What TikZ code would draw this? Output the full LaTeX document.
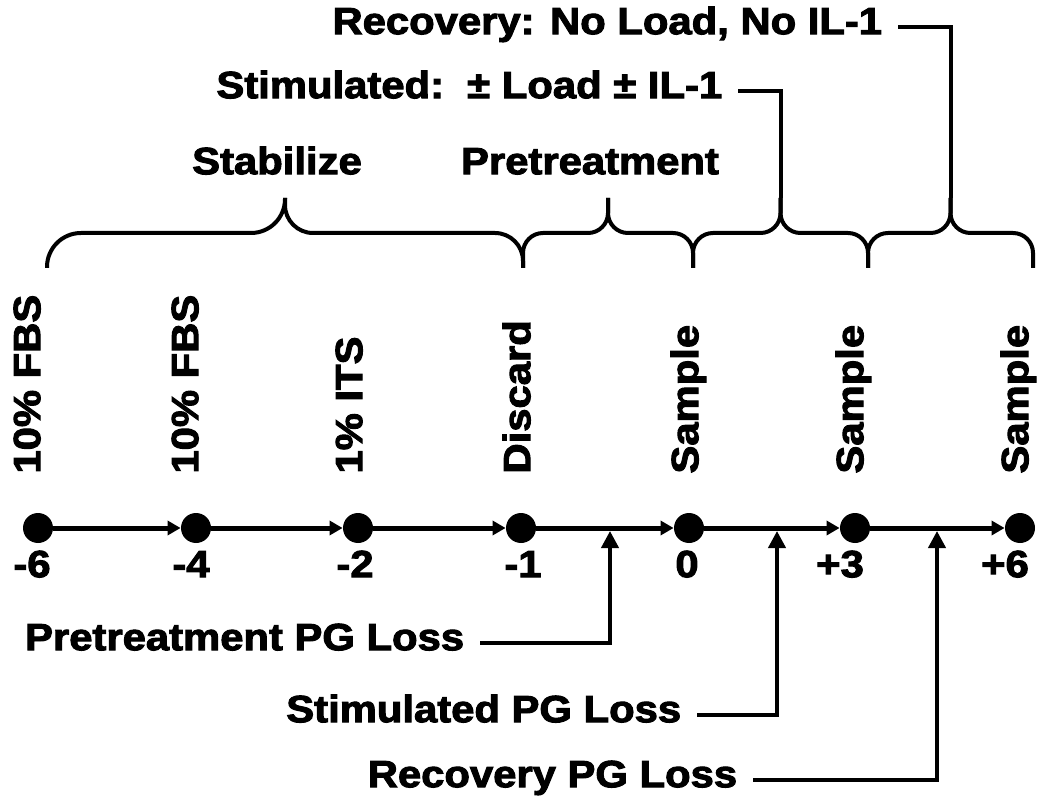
\documentclass[tikz,border=0pt]{standalone}
\usepackage{fontspec}
\setsansfont{Liberation Sans}[BoldFeatures={FakeBold=2.5}]
\usetikzlibrary{arrows.meta}

\tikzset{
  txt/.style={font=\sffamily\bfseries\fontsize{19}{22}\selectfont, inner sep=0pt, text height=0.72em, text depth=0pt},
  lbl/.style={txt, xscale=1.1},
  vlbl/.style={txt, rotate=90, xscale=1.1, anchor=west},
  tag/.style={lbl, anchor=east, inner xsep=7pt},
  dot/.style={circle, fill=black, inner sep=0pt, minimum size=15pt},
  timeline/.style={line width=2.5pt, -{Triangle[length=6.5pt,width=7pt]}},
  uparrow/.style={line width=2pt, -{Triangle[length=8.5pt,width=8.5pt]}},
  guide/.style={line width=2pt}
}

\begin{document}
\begin{tikzpicture}[x=0.5pt,y=-0.5pt]
\useasboundingbox (0,0) rectangle (1037,806);

%шкала времени
\node[dot] (m6) at (38,528) {};
\node[dot] (m4) at (196,528) {};
\node[dot] (m2) at (358,528) {};
\node[dot] (m1) at (521,528) {};
\node[dot] (p0) at (689,528) {};
\node[dot] (p3) at (855,528) {};
\node[dot] (p6) at (1020,528) {};
\foreach \a/\b in {m6/m4,m4/m2,m2/m1,m1/p0,p0/p3,p3/p6}
  \draw[timeline] (\a) -- (\b);

%дни
\node[lbl] (n6) at (32,570) {-6};
\node[lbl] (n4) at (191,570) {-4};
\node[lbl] (n2) at (355,570) {-2};
\node[lbl] (n1) at (523,570) {-1};
\node[lbl] (z0) at (687,570) {0};
\node[lbl] (z3) at (840,570) {+3};
\node[lbl] (z6) at (1005,570) {+6};

%среда
\node[vlbl] (v1) at (33,474) {10\% FBS};
\node[vlbl] (v2) at (191,474) {10\% FBS};
\node[vlbl] (v3) at (355,474) {1\% ITS};
\node[vlbl] (v4) at (523,474) {Discard};
\node[vlbl] (v5) at (691,474) {Sample};
\node[vlbl] (v6) at (856,474) {Sample};
\node[vlbl] (v7) at (1021,474) {Sample};

%скобки
\coordinate (stabtip) at (285,198);
\coordinate (prettip) at (608,198);
\coordinate (stimtip) at (780.5,198);
\coordinate (rectip) at (950.5,198);
\draw[guide, rounded corners=17pt] (47,268) -- (47,233) -| (stabtip);
\draw[guide, rounded corners=14pt] (523,268) -- (523,233) -| (stabtip);
\draw[guide, rounded corners=10pt] (523,268) -- (523,233) -| (prettip);
\draw[guide, rounded corners=10pt] (693,268) -- (693,233) -| (prettip);
\draw[guide, rounded corners=10pt] (693,268) -- (693,233) -| (stimtip);
\draw[guide, rounded corners=10pt] (868,268) -- (868,233) -| (stimtip);
\draw[guide, rounded corners=10pt] (868,268) -- (868,233) -| (rectip);
\draw[guide, rounded corners=10pt] (1033,268) -- (1033,233) -| (rectip);

\node[lbl] (stab) at (277,167) {Stabilize};
\node[lbl] (pret) at (590,167) {Pretreatment};

%верхние подписи
\node[tag] (stim) at (738,91) {Stimulated:\ \ ± Load ± IL-1};
\node[tag] (rec) at (898,27) {Recovery: No Load, No IL-1};
\draw[guide] (stim.east) -| (stimtip);
\draw[guide] (rec.east) -| (rectip);

%потери PG
\coordinate (a1) at (610,531);
\coordinate (a2) at (777,531);
\coordinate (a3) at (937,531);
\node[tag] (pgl) at (480,643) {Pretreatment PG Loss};
\node[tag] (sgl) at (697,715) {Stimulated PG Loss};
\node[tag] (rgl) at (753,780) {Recovery PG Loss};
\draw[uparrow] (pgl.east) -| (a1);
\draw[uparrow] (sgl.east) -| (a2);
\draw[uparrow] (rgl.east) -| (a3);

\end{tikzpicture}
\end{document}
